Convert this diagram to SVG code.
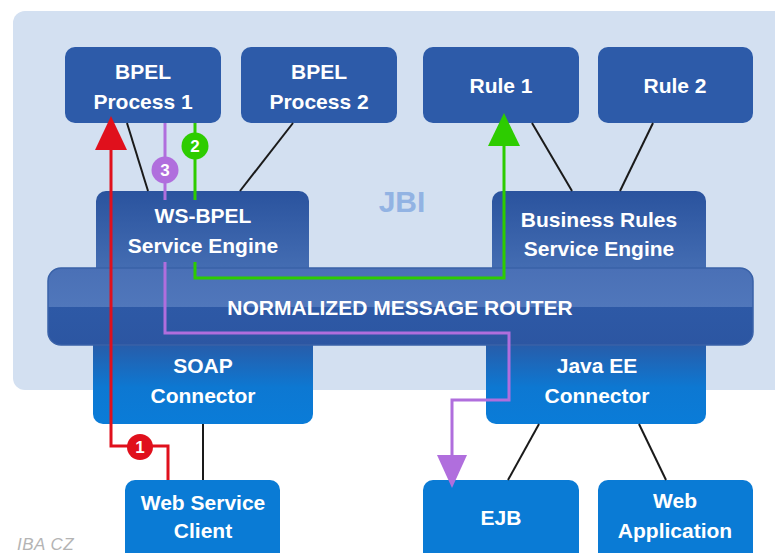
<svg xmlns="http://www.w3.org/2000/svg" width="775" height="553" viewBox="0 0 775 553">
<defs>
<linearGradient id="gEngine" x1="0" y1="0" x2="0" y2="1">
<stop offset="0" stop-color="#2a539e"/>
<stop offset="1" stop-color="#4b74b8"/>
</linearGradient>
<linearGradient id="gConn" x1="0" y1="0" x2="0" y2="1">
<stop offset="0" stop-color="#2a4c8e"/>
<stop offset="0.2" stop-color="#2a5aa6"/>
<stop offset="0.65" stop-color="#0d78d2"/>
<stop offset="1" stop-color="#0a7cd8"/>
</linearGradient>
<linearGradient id="gRouterTop" x1="0" y1="0" x2="0" y2="1">
<stop offset="0" stop-color="#4a70b6"/>
<stop offset="1" stop-color="#5077bb"/>
</linearGradient>
<linearGradient id="gRouterBot" x1="0" y1="0" x2="0" y2="1">
<stop offset="0" stop-color="#2f5caa"/>
<stop offset="1" stop-color="#2c56a2"/>
</linearGradient>
</defs>
<style>
.box{fill:#2d5ba9}
.leaf{fill:#0a7bd5}
.lbl{font-family:"Liberation Sans",Arial,sans-serif;font-weight:bold;font-size:21px;fill:#ffffff;text-anchor:middle}
.blk{stroke:#1a1a1a;stroke-width:2;fill:none}
.red{stroke:#e0101c;stroke-width:3;fill:none}
.grn{stroke:#2dcc00;stroke-width:3;fill:none}
.pur{stroke:#b06edd;stroke-width:3;fill:none}
.num{font-family:"Liberation Sans",Arial,sans-serif;font-weight:bold;font-size:17px;fill:#ffffff;text-anchor:middle}
</style>
<rect width="775" height="553" fill="#ffffff"/>
<g id="jbi">
<rect x="13" y="11" width="790" height="379" rx="12" fill="#d3e0f1"/>
<text x="402" y="212" font-family="Liberation Sans,Arial,sans-serif" font-weight="bold" font-size="30" fill="#92b3e3" text-anchor="middle">JBI</text>
</g>
<g id="bpel1"><rect class="box" x="65" y="47" width="156" height="76" rx="10"/><text class="lbl" x="143" y="79">BPEL</text><text class="lbl" x="143" y="109">Process 1</text></g>
<g id="bpel2"><rect class="box" x="241" y="47" width="156" height="76" rx="10"/><text class="lbl" x="319" y="79">BPEL</text><text class="lbl" x="319" y="109">Process 2</text></g>
<g id="rule1"><rect class="box" x="423" y="47" width="156" height="76" rx="10"/><text class="lbl" x="501" y="93">Rule 1</text></g>
<g id="rule2"><rect class="box" x="598" y="47" width="155" height="76" rx="10"/><text class="lbl" x="675" y="93">Rule 2</text></g>
<g id="wsbpel"><rect x="96" y="191" width="213" height="100" rx="10" fill="url(#gEngine)"/><text class="lbl" x="203" y="223">WS-BPEL</text><text class="lbl" x="203" y="253">Service Engine</text></g>
<g id="brse"><rect x="492" y="191" width="214" height="100" rx="10" fill="url(#gEngine)"/><text class="lbl" x="599" y="227">Business Rules</text><text class="lbl" x="599" y="256">Service Engine</text></g>
<g id="soap"><rect x="93" y="320" width="220" height="104" rx="10" fill="url(#gConn)"/><text class="lbl" x="203" y="373">SOAP</text><text class="lbl" x="203" y="403">Connector</text></g>
<g id="javaee"><rect x="486" y="320" width="220" height="104" rx="10" fill="url(#gConn)"/><text class="lbl" x="597" y="373">Java EE</text><text class="lbl" x="597" y="403">Connector</text></g>
<g id="nmr">
<rect x="48" y="268" width="705" height="77" rx="13" fill="url(#gRouterBot)"/>
<path d="M48,307 V281 a13,13 0 0 1 13,-13 H740 a13,13 0 0 1 13,13 V307 z" fill="url(#gRouterTop)"/>
<rect x="48" y="268" width="705" height="77" rx="13" fill="none" stroke="#3a62a8" stroke-width="1.5"/>
<text class="lbl" x="400" y="315">NORMALIZED MESSAGE ROUTER</text>
</g>
<g id="wsclient"><rect class="leaf" x="125" y="480" width="155" height="90" rx="10"/><text class="lbl" x="203" y="510">Web Service</text><text class="lbl" x="203" y="538">Client</text></g>
<g id="ejb"><rect class="leaf" x="423" y="480" width="156" height="90" rx="10"/><text class="lbl" x="501" y="525">EJB</text></g>
<g id="webapp"><rect class="leaf" x="598" y="480" width="155" height="90" rx="10"/><text class="lbl" x="675" y="508">Web</text><text class="lbl" x="675" y="538">Application</text></g>
<text x="17" y="550" font-family="Liberation Sans,Arial,sans-serif" font-style="italic" font-size="17" fill="#b4b4b4" letter-spacing="0.5">IBA CZ</text>
<g id="connectors">
<line class="blk" x1="127" y1="123" x2="148" y2="191"/>
<line class="blk" x1="293" y1="123" x2="240" y2="191"/>
<line class="blk" x1="532" y1="123" x2="572" y2="191"/>
<line class="blk" x1="653" y1="123" x2="620" y2="191"/>
<line class="blk" x1="203" y1="424" x2="203" y2="480"/>
<line class="blk" x1="539" y1="424" x2="508" y2="480"/>
<line class="blk" x1="639" y1="424" x2="666" y2="480"/>
<path class="red" d="M168,480 V446 H111 V148"/>
<path d="M111,116 L127,150 L95,150 z" fill="#e0101c"/>
<circle cx="140" cy="447" r="13" fill="#e0101c"/>
<text class="num" x="140" y="453">1</text>
<path class="grn" d="M195,123 V200"/>
<path class="grn" d="M195,262 V278 H504 V144"/>
<path d="M504,113 L520,146 L488,146 z" fill="#2dcc00"/>
<circle cx="195" cy="146" r="13.5" fill="#2dcc00"/>
<text class="num" x="195" y="152">2</text>
<path class="pur" d="M165,123 V200"/>
<path class="pur" d="M165,262 V333 H509 V400 H452 V458"/>
<path d="M452,488 L467,455 L437,455 z" fill="#b06edd"/>
<circle cx="165" cy="170" r="13.5" fill="#b06edd"/>
<text class="num" x="165" y="176">3</text>
</g>
</svg>
